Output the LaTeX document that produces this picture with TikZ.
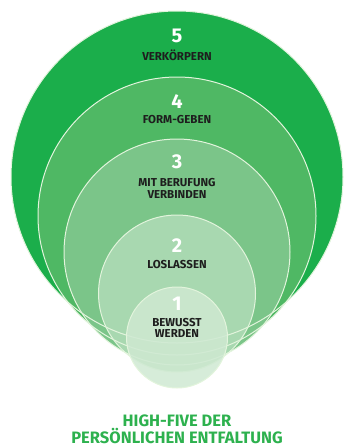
\documentclass[tikz,border=0pt]{standalone}
\usepackage{fontspec}
\setmainfont{Fira Sans}
\usetikzlibrary{positioning}
\definecolor{ring5}{HTML}{1BAE4B}
\definecolor{ring4}{HTML}{4FB864}
\definecolor{ring3}{HTML}{7BC589}
\definecolor{ring2}{HTML}{A8D8B0}
\definecolor{ring1}{HTML}{CFE9D2}
\definecolor{ringline}{HTML}{E2F4DC}
\definecolor{labeltext}{HTML}{1E1E1E}
\definecolor{titlegreen}{HTML}{2DB14E}

\begin{document}
\begin{tikzpicture}[
    x=1pt, y=-1pt,
    edge/.style={draw=ringline, line width=1pt},
    num/.style={font=\bfseries\fontsize{20}{20}\selectfont, text=white, inner sep=0pt},
    lbl/.style={font=\bfseries\fontsize{11.5}{11.5}\selectfont, text=labeltext, align=center, inner sep=0pt},
    title/.style={font=\bfseries\fontsize{16.5}{15.5}\selectfont, text=titlegreen, align=center, inner sep=0pt}
]
\useasboundingbox (0,0) rectangle (345,447);
% rings, outer to inner
\foreach \lvl/\cy/\r in {5/177/166, 4/216/139, 3/252/113, 2/293.5/78.5}
  \fill[ring\lvl] (177,\cy) circle[radius=\r];
\foreach \cy/\r in {177/166, 216/139, 252/113, 293.5/78.5}
  \path[edge] (177,\cy) circle[radius=\r];
\fill[ring1, fill opacity=0.85] (177,337.5) circle[radius=50.5];
\path[edge] (177,337.5) circle[radius=50.5];

\node[num] (n5) at (177,36) {5};
\node[lbl] (l5) at (177,55) {VERKÖRPERN};
\node[num] (n4) at (177,102) {4};
\node[lbl] (l4) at (177,120) {FORM-GEBEN};
\node[num] (n3) at (177,162) {3};
\node[lbl] (l3) at (177,188.5) {MIT BERUFUNG\\VERBINDEN};
\node[num] (n2) at (177,246) {2};
\node[lbl] (l2) at (177,265) {LOSLASSEN};
\node[num] (n1) at (177,304) {1};
\node[lbl] (l1) at (177,328) {BEWUSST\\WERDEN};
\node[title] (title) at (177,429.5) {HIGH-FIVE DER\\PERSÖNLICHEN ENTFALTUNG};
\end{tikzpicture}
\end{document}
